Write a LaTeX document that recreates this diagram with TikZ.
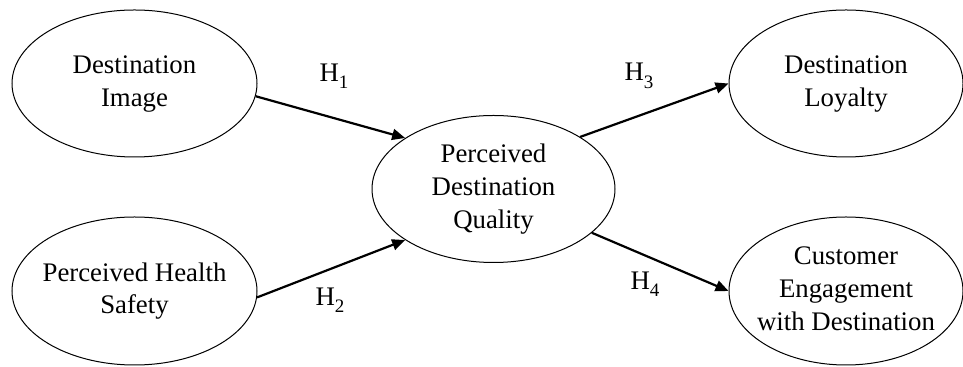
\documentclass[tikz,border=0pt]{standalone}
\usepackage{fontspec}
\setmainfont{Liberation Serif}
\usetikzlibrary{shapes.geometric,arrows.meta}
\newcommand{\hyp}[1]{H\raisebox{-0.6ex}{\fontsize{9.5}{10}\selectfont #1}}
\newcommand{\ctext}[1]{\makebox[0pt]{\begin{tabular}{@{}c@{}}#1\end{tabular}}}
\begin{document}
\begin{tikzpicture}[x=0.5pt,y=-0.5pt,
  construct/.style={draw, ellipse, line width=0.5pt, inner sep=0pt,
    font=\fontsize{13.4}{16.3}\selectfont},
  path/.style={line width=1.1pt, -{Triangle[length=6.5pt,width=5.5pt]}},
  hlabel/.style={font=\fontsize{13.4}{16}\selectfont, inner sep=0pt}]
\useasboundingbox (0,0) rectangle (963,367);
\node[construct, minimum width=122.5pt, minimum height=73.5pt] (di) at (134.5,83.5) {\ctext{Destination\\Image}};
\node[construct, minimum width=122.5pt, minimum height=74pt] (phs) at (134.5,291) {\ctext{Perceived Health\\Safety}};
\node[construct, minimum width=121.5pt, minimum height=73.5pt] (pdq) at (493.5,189) {\ctext{Perceived\\Destination\\Quality}};
\node[construct, minimum width=117pt, minimum height=73.5pt] (dl) at (846,83.5) {\ctext{Destination\\Loyalty}};
\node[construct, minimum width=117pt, minimum height=74pt] (ced) at (846,291) {\ctext{Customer\\Engagement\\with Destination}};
\draw[path] (di.-6) -- (pdq.150);
\draw[path] (phs.-3) -- (pdq.-150);
\draw[path] (pdq.31.5) -- (dl.180);
\draw[path] (pdq.-24.5) -- (ced.180);
\node[hlabel] (h1) at (334,76) {\hyp{1}};
\node[hlabel] (h2) at (330,300) {\hyp{2}};
\node[hlabel] (h3) at (639,76) {\hyp{3}};
\node[hlabel] (h4) at (645,284) {\hyp{4}};
\end{tikzpicture}
\end{document}
